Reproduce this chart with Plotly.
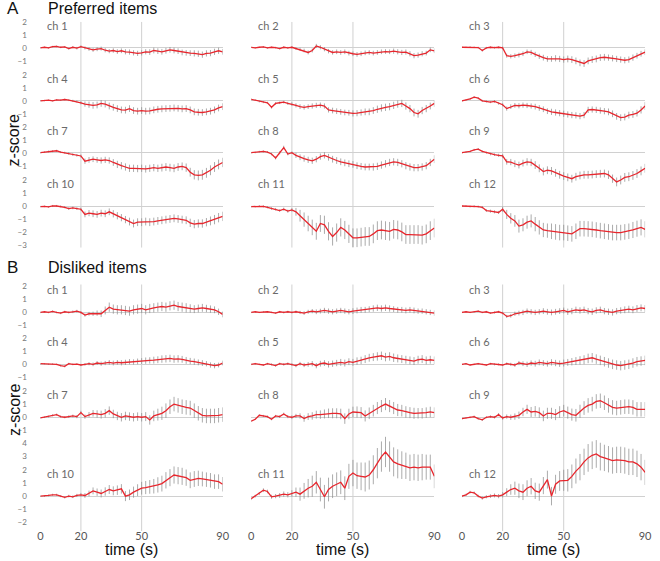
import plotly.graph_objects as go

# ---------------- data (time in s, z-score means and error bars) ----------------
time_s = list(range(0, 91, 2))

# Preferred items (panel A)
pref_ch1 = [0, 0.05, 0, 0.1, 0.12, 0.05, 0.08, -0.05, 0.05, -0.02,
            0.1, 0, -0.08, -0.15, -0.1, -0.05, -0.18, -0.25, -0.2, -0.28,
            -0.22, -0.3, -0.32, -0.38, -0.42, -0.38, -0.3, -0.32, -0.2, -0.25,
            -0.3, -0.22, -0.15, -0.2, -0.25, -0.35, -0.38, -0.4, -0.42, -0.45,
            -0.52, -0.42, -0.4, -0.3, -0.22, -0.3]
pref_ch2 = [0.05, 0.0, 0.05, 0.08, 0.0, 0.05, 0.02, -0.05, 0.05, 0.0,
            0.05, -0.05, -0.1, -0.2, -0.35, -0.2, 0.15, 0.05, -0.1, -0.25,
            -0.35, -0.3, -0.35, -0.3, -0.4, -0.45, -0.5, -0.45, -0.38, -0.35,
            -0.4, -0.35, -0.3, -0.28, -0.3, -0.25, -0.3, -0.35, -0.32, -0.45,
            -0.6, -0.55, -0.45, -0.4, -0.15, -0.22]
pref_ch3 = [0.05, 0.05, 0.08, 0.05, 0.03, -0.2, 0.0, 0.05, 0.02, 0.05,
            0.0, -0.6, -0.65, -0.6, -0.55, -0.45, -0.3, -0.35, -0.5, -0.65,
            -0.75, -0.85, -0.85, -0.8, -0.85, -0.9, -0.85, -0.9, -1.0, -1.15,
            -1.2, -1.0, -0.9, -0.85, -0.75, -0.72, -0.75, -0.8, -0.85, -0.9,
            -0.95, -0.9, -0.75, -0.6, -0.45, -0.33]
pref_ch4 = [0.0, 0.02, 0.05, 0.0, 0.08, 0.05, 0.1, 0.05, 0.0, -0.05,
            -0.15, -0.25, -0.3, -0.35, -0.32, -0.2, -0.25, -0.4, -0.5, -0.6,
            -0.7, -0.72, -0.6, -0.75, -0.8, -0.75, -0.8, -0.78, -0.7, -0.65,
            -0.62, -0.6, -0.58, -0.55, -0.58, -0.62, -0.6, -0.7, -0.85, -0.88,
            -0.9, -0.85, -0.8, -0.7, -0.55, -0.45]
pref_ch5 = [0.12, 0.05, -0.05, -0.1, -0.15, -0.5, -0.2, -0.15, -0.1, -0.2,
            -0.25, -0.35, -0.45, -0.5, -0.45, -0.4, -0.35, -0.33, -0.4, -0.7,
            -0.75, -0.8, -0.85, -0.9, -0.92, -0.97, -0.95, -0.9, -0.85, -0.85,
            -0.75, -0.65, -0.55, -0.5, -0.45, -0.35, -0.25, -0.2, -0.4, -0.6,
            -0.9, -1.0, -0.75, -0.6, -0.4, -0.2]
pref_ch6 = [0.0, 0.05, 0.15, 0.28, 0.2, 0.0, -0.05, -0.1, -0.05, -0.2,
            -0.3, -0.6, -0.45, -0.35, -0.38, -0.33, -0.36, -0.4, -0.45, -0.55,
            -0.65, -0.8, -0.85, -0.9, -0.95, -1.0, -1.05, -1.1, -1.12, -1.18,
            -1.1, -0.7, -0.67, -0.7, -0.75, -0.8, -0.85, -1.0, -1.2, -1.3,
            -1.25, -1.1, -1.05, -0.95, -0.7, -0.4]
pref_ch7 = [0.0, 0.05, 0.1, 0.12, 0.15, 0.05, 0.0, -0.05, -0.15, -0.2,
            -0.25, -0.65, -0.55, -0.5, -0.55, -0.6, -0.55, -0.6, -0.75, -0.9,
            -1.0, -1.1, -1.2, -1.2, -1.22, -1.2, -1.25, -1.2, -1.15, -1.2,
            -1.15, -1.1, -1.15, -1.2, -1.1, -1.05, -1.15, -1.5, -1.7, -1.75,
            -1.7, -1.55, -1.35, -1.1, -0.9, -0.75]
pref_ch8 = [0.0, 0.02, 0.08, 0.1, 0.05, -0.1, -0.4, 0.0, 0.4, -0.1,
            0.0, -0.2, -0.35, -0.45, -0.55, -0.62, -0.5, -0.3, -0.2, -0.35,
            -0.5, -0.6, -0.7, -0.78, -0.85, -0.9, -1.0, -1.05, -1.1, -1.1,
            -1.1, -1.05, -0.95, -0.85, -0.75, -0.7, -0.75, -0.85, -1.0, -1.1,
            -1.15, -1.15, -1.1, -1.0, -0.75, -0.5]
pref_ch9 = [0.0, 0.05, 0.1, 0.22, 0.28, 0.1, 0.0, -0.1, -0.15, -0.2,
            -0.25, -0.7, -0.72, -0.85, -0.95, -0.8, -0.7, -0.75, -0.95, -1.2,
            -1.45, -1.35, -1.4, -1.55, -1.7, -1.8, -1.9, -2.0, -1.85, -1.75,
            -1.7, -1.7, -1.68, -1.65, -1.62, -1.6, -1.7, -2.0, -2.25, -2.1,
            -1.9, -1.85, -1.75, -1.6, -1.4, -1.2]
pref_ch10 = [0.0, 0.02, -0.02, 0.05, 0.05, 0.02, -0.05, -0.15, -0.1, -0.15,
             -0.2, -0.6, -0.5, -0.55, -0.6, -0.5, -0.55, -0.4, -0.55, -0.7,
             -0.85, -1.0, -1.15, -1.3, -1.2, -1.2, -1.15, -1.2, -1.15, -1.1,
             -1.05, -1.0, -0.95, -0.9, -0.95, -1.0, -1.05, -1.25, -1.35, -1.3,
             -1.3, -1.2, -1.1, -1.0, -0.85, -0.75]
pref_ch11 = [0.0, 0.0, 0.05, 0.02, -0.05, -0.15, -0.2, -0.3, -0.2, -0.35,
             -0.25, -0.4, -0.7, -1.0, -1.3, -1.6, -1.9, -1.3, -1.4, -1.9,
             -2.3, -2.0, -1.6, -1.8, -2.1, -2.4, -2.4, -2.35, -2.3, -2.3,
             -2.1, -1.85, -1.8, -1.85, -1.9, -1.75, -1.8, -1.95, -2.15, -2.15,
             -2.15, -2.15, -2.2, -2.1, -1.85, -1.65]
pref_ch12 = [0.05, 0.05, 0.0, 0.03, 0.0, -0.05, -0.3, -0.35, -0.4, -0.45,
             -0.2, -0.6, -0.9, -1.1, -1.5, -1.4, -1.2, -1.1, -1.35, -1.6,
             -1.8, -1.85, -1.9, -1.95, -2.0, -2.0, -2.05, -2.1, -1.9, -1.7,
             -1.7, -1.72, -1.75, -1.8, -1.85, -1.9, -1.95, -2.0, -2.0, -2.0,
             -1.95, -1.9, -1.8, -1.7, -1.6, -1.75]

pref_err_ch1 = [0.05, 0.05, 0.06, 0.06, 0.06, 0.07, 0.07, 0.08, 0.08, 0.1,
                0.1, 0.12, 0.14, 0.15, 0.15, 0.15, 0.16, 0.16, 0.17, 0.18,
                0.18, 0.2, 0.2, 0.2, 0.2, 0.2, 0.2, 0.22, 0.22, 0.22,
                0.22, 0.22, 0.22, 0.22, 0.22, 0.22, 0.22, 0.22, 0.24, 0.24,
                0.24, 0.24, 0.24, 0.24, 0.24, 0.22]
pref_err_ch2 = [0.05, 0.05, 0.05, 0.06, 0.06, 0.06, 0.07, 0.07, 0.08, 0.08,
                0.09, 0.1, 0.12, 0.14, 0.15, 0.15, 0.16, 0.16, 0.16, 0.17,
                0.17, 0.18, 0.18, 0.18, 0.18, 0.18, 0.18, 0.18, 0.18, 0.18,
                0.18, 0.18, 0.18, 0.18, 0.18, 0.2, 0.2, 0.2, 0.2, 0.2,
                0.2, 0.2, 0.2, 0.18, 0.18, 0.18]
pref_err_ch3 = [0.05, 0.05, 0.05, 0.06, 0.06, 0.08, 0.08, 0.08, 0.08, 0.08,
                0.1, 0.15, 0.16, 0.17, 0.18, 0.18, 0.18, 0.2, 0.2, 0.2,
                0.22, 0.22, 0.22, 0.24, 0.24, 0.24, 0.26, 0.26, 0.26, 0.26,
                0.26, 0.26, 0.26, 0.26, 0.26, 0.26, 0.24, 0.24, 0.24, 0.24,
                0.24, 0.24, 0.24, 0.22, 0.22, 0.22]
pref_err_ch4 = [0.05, 0.05, 0.05, 0.05, 0.06, 0.06, 0.06, 0.07, 0.08, 0.08,
                0.12, 0.2, 0.24, 0.26, 0.26, 0.26, 0.26, 0.26, 0.26, 0.26,
                0.26, 0.26, 0.26, 0.26, 0.26, 0.26, 0.26, 0.26, 0.26, 0.26,
                0.26, 0.26, 0.26, 0.26, 0.26, 0.26, 0.26, 0.26, 0.26, 0.26,
                0.26, 0.26, 0.26, 0.26, 0.26, 0.26]
pref_err_ch5 = [0.06, 0.06, 0.07, 0.08, 0.08, 0.1, 0.1, 0.1, 0.1, 0.12,
                0.14, 0.16, 0.18, 0.18, 0.18, 0.2, 0.2, 0.2, 0.2, 0.2,
                0.22, 0.22, 0.22, 0.22, 0.22, 0.24, 0.24, 0.24, 0.26, 0.26,
                0.26, 0.28, 0.28, 0.28, 0.28, 0.28, 0.28, 0.28, 0.28, 0.28,
                0.3, 0.3, 0.28, 0.28, 0.26, 0.26]
pref_err_ch6 = [0.06, 0.06, 0.07, 0.08, 0.08, 0.08, 0.08, 0.08, 0.1, 0.1,
                0.12, 0.16, 0.18, 0.18, 0.2, 0.2, 0.2, 0.2, 0.22, 0.22,
                0.22, 0.22, 0.24, 0.24, 0.24, 0.24, 0.24, 0.24, 0.24, 0.24,
                0.24, 0.24, 0.24, 0.24, 0.24, 0.24, 0.26, 0.26, 0.26, 0.26,
                0.26, 0.26, 0.26, 0.26, 0.28, 0.3]
pref_err_ch7 = [0.06, 0.06, 0.07, 0.08, 0.08, 0.08, 0.08, 0.1, 0.1, 0.1,
                0.12, 0.2, 0.22, 0.22, 0.22, 0.24, 0.24, 0.24, 0.26, 0.28,
                0.28, 0.28, 0.28, 0.28, 0.28, 0.28, 0.28, 0.28, 0.28, 0.28,
                0.3, 0.3, 0.3, 0.3, 0.3, 0.3, 0.32, 0.34, 0.36, 0.38,
                0.38, 0.38, 0.38, 0.38, 0.38, 0.36]
pref_err_ch8 = [0.06, 0.06, 0.07, 0.08, 0.08, 0.1, 0.12, 0.12, 0.14, 0.1,
                0.1, 0.2, 0.22, 0.24, 0.24, 0.24, 0.24, 0.24, 0.24, 0.26,
                0.26, 0.26, 0.26, 0.26, 0.26, 0.26, 0.26, 0.26, 0.26, 0.26,
                0.28, 0.28, 0.28, 0.28, 0.28, 0.28, 0.28, 0.28, 0.28, 0.28,
                0.28, 0.28, 0.28, 0.28, 0.28, 0.3]
pref_err_ch9 = [0.06, 0.06, 0.07, 0.08, 0.08, 0.08, 0.08, 0.1, 0.1, 0.12,
                0.14, 0.22, 0.24, 0.26, 0.26, 0.26, 0.28, 0.28, 0.3, 0.3,
                0.3, 0.3, 0.3, 0.3, 0.3, 0.3, 0.3, 0.3, 0.3, 0.3,
                0.3, 0.3, 0.3, 0.3, 0.3, 0.3, 0.32, 0.32, 0.34, 0.34,
                0.34, 0.34, 0.34, 0.34, 0.34, 0.34]
pref_err_ch10 = [0.06, 0.06, 0.07, 0.08, 0.08, 0.08, 0.08, 0.1, 0.1, 0.1,
                 0.12, 0.22, 0.24, 0.26, 0.26, 0.26, 0.26, 0.26, 0.28, 0.28,
                 0.28, 0.28, 0.3, 0.3, 0.3, 0.3, 0.3, 0.3, 0.3, 0.3,
                 0.3, 0.3, 0.3, 0.3, 0.3, 0.3, 0.3, 0.32, 0.32, 0.32,
                 0.32, 0.32, 0.34, 0.36, 0.36, 0.36]
pref_err_ch11 = [0.06, 0.06, 0.07, 0.08, 0.08, 0.1, 0.1, 0.1, 0.12, 0.12,
                 0.14, 0.3, 0.45, 0.55, 0.6, 0.6, 0.65, 0.65, 0.7, 0.7,
                 0.7, 0.7, 0.7, 0.7, 0.7, 0.72, 0.72, 0.72, 0.72, 0.72,
                 0.72, 0.72, 0.72, 0.72, 0.72, 0.72, 0.72, 0.72, 0.72, 0.72,
                 0.72, 0.72, 0.72, 0.72, 0.72, 0.72]
pref_err_ch12 = [0.06, 0.06, 0.07, 0.08, 0.08, 0.1, 0.1, 0.12, 0.12, 0.12,
                 0.2, 0.35, 0.4, 0.45, 0.5, 0.5, 0.5, 0.5, 0.55, 0.55,
                 0.55, 0.55, 0.6, 0.6, 0.6, 0.6, 0.6, 0.6, 0.6, 0.6,
                 0.6, 0.6, 0.6, 0.6, 0.6, 0.6, 0.6, 0.6, 0.6, 0.6,
                 0.6, 0.6, 0.62, 0.62, 0.62, 0.62]

# Disliked items (panel B)
dis_ch1 = [0.0, 0.05, 0.0, 0.08, 0.0, -0.05, 0.05, 0.0, 0.05, 0.1,
           0.0, -0.2, -0.1, -0.1, -0.05, -0.1, 0.15, 0.4, 0.25, 0.2,
           0.2, 0.15, 0.1, 0.2, 0.25, 0.3, 0.2, 0.3, 0.35, 0.4,
           0.45, 0.4, 0.5, 0.55, 0.45, 0.4, 0.35, 0.3, 0.25, 0.3,
           0.35, 0.3, 0.25, 0.2, 0.05, -0.15]
dis_ch2 = [0.0, 0.05, 0.0, 0.05, 0.05, 0.0, -0.05, 0.05, 0.0, 0.05,
           0.0, 0.05, 0.0, -0.05, 0.05, 0.1, 0.05, 0.1, 0.15, 0.1,
           0.05, 0.1, 0.15, 0.1, 0.05, 0.1, 0.15, 0.2, 0.2, 0.25,
           0.3, 0.35, 0.3, 0.35, 0.3, 0.25, 0.2, 0.2, 0.15, 0.2,
           0.15, 0.1, 0.1, 0.05, 0.0, -0.05]
dis_ch3 = [0.0, 0.05, 0.0, 0.05, 0.1, 0.0, 0.05, -0.05, 0.0, 0.05,
           -0.05, -0.3, -0.25, -0.1, -0.05, 0.0, 0.1, 0.05, 0.0, 0.05,
           0.1, 0.05, 0.0, 0.05, 0.1, 0.15, 0.05, 0.1, 0.2, 0.15,
           0.2, 0.1, 0.05, 0.15, 0.2, 0.1, 0.05, 0.0, 0.1, 0.15,
           0.2, 0.25, 0.2, 0.3, 0.35, 0.3]
dis_ch4 = [0.05, 0.05, 0.0, 0.02, 0.0, -0.1, -0.15, 0.05, 0.0, 0.02,
           -0.05, 0.0, 0.05, 0.0, 0.1, 0.05, 0.1, 0.15, 0.1, 0.15,
           0.12, 0.15, 0.2, 0.18, 0.22, 0.25, 0.28, 0.3, 0.32, 0.35,
           0.4, 0.42, 0.45, 0.4, 0.42, 0.38, 0.3, 0.25, 0.2, 0.15,
           0.1, 0.05, -0.05, -0.1, -0.05, 0.1]
dis_ch5 = [0.0, 0.05, 0.0, -0.05, 0.05, 0.0, -0.1, 0.05, 0.0, 0.05,
           0.0, -0.1, 0.05, -0.05, 0.0, 0.05, -0.1, 0.05, 0.1, 0.0,
           0.05, 0.1, 0.15, 0.1, 0.2, 0.15, 0.25, 0.3, 0.4, 0.5,
           0.55, 0.6, 0.65, 0.55, 0.6, 0.5, 0.45, 0.4, 0.35, 0.3,
           0.25, 0.35, 0.4, 0.3, 0.35, 0.3]
dis_ch6 = [0.0, 0.05, -0.05, 0.0, 0.05, 0.0, -0.05, 0.05, 0.0, 0.0,
           -0.05, 0.05, 0.0, -0.05, 0.1, 0.05, 0.0, 0.1, 0.05, 0.15,
           0.1, 0.05, 0.15, 0.1, 0.05, 0.1, 0.15, 0.2, 0.25, 0.3,
           0.35, 0.45, 0.5, 0.4, 0.3, 0.2, 0.1, 0.0, -0.05, -0.1,
           -0.05, 0.0, 0.1, 0.2, 0.25, 0.3]
dis_ch7 = [-0.05, 0.0, 0.05, 0.15, 0.2, 0.05, 0.0, 0.05, 0.1, 0.05,
           0.35, 0.05, 0.2, 0.3, 0.25, 0.2, 0.3, 0.5, 0.25, 0.1,
           0.0, 0.1, 0.05, 0.0, 0.05, 0.0, 0.05, -0.2, 0.1, 0.2,
           0.3, 0.5, 0.8, 1.0, 0.9, 0.8, 0.75, 0.7, 0.5, 0.3,
           0.15, 0.1, 0.1, 0.1, 0.15, 0.2]
dis_ch8 = [-0.3, -0.15, 0.15, 0.1, 0.05, -0.15, 0.1, 0.05, 0.25, 0.05,
           0.0, 0.1, 0.1, -0.1, 0.05, 0.1, 0.2, 0.2, 0.25, 0.3,
           0.3, 0.3, 0.25, -0.1, 0.25, 0.4, 0.4, 0.35, 0.1, 0.3,
           0.5, 0.7, 0.85, 1.0, 0.85, 0.7, 0.55, 0.5, 0.4, 0.35,
           0.3, 0.3, 0.3, 0.35, 0.4, 0.35]
dis_ch9 = [-0.1, -0.05, 0.0, 0.05, -0.1, -0.2, 0.0, 0.05, 0.0, 0.2,
           -0.05, 0.05, 0.0, 0.05, 0.15, 0.4, 0.6, 0.4, 0.45, 0.35,
           0.1, 0.3, 0.3, 0.2, 0.4, 0.5, 0.35, 0.2, 0.15, 0.45,
           0.7, 0.9, 1.0, 1.2, 1.25, 1.1, 0.9, 0.75, 0.7, 0.75,
           0.8, 0.8, 0.75, 0.6, 0.6, 0.6]
dis_ch10 = [0.0, 0.0, 0.05, 0.1, 0.1, 0.0, -0.1, 0.0, -0.05, 0.05,
            0.1, 0.05, 0.2, 0.4, 0.3, 0.2, 0.35, 0.5, 0.4, 0.45,
            0.55, 0.0, 0.1, 0.3, 0.45, 0.6, 0.65, 0.7, 0.75, 0.85,
            0.95, 1.2, 1.4, 1.6, 1.55, 1.5, 1.4, 1.2, 1.3, 1.35,
            1.3, 1.25, 1.2, 1.1, 1.1, 0.9]
dis_ch11 = [-0.2, 0.0, 0.2, 0.45, 0.35, -0.05, 0.0, 0.05, 0.15, 0.1,
            0.2, 0.3, 0.15, 0.4, 0.6, 0.75, 1.05, 0.5, -0.05, 0.5,
            0.75, 0.9, 1.05, 0.6, 1.5, 1.75, 1.55, 1.5, 1.45, 1.6,
            2.0, 2.5, 3.0, 3.35, 3.0, 2.6, 2.45, 2.35, 2.3, 2.15,
            2.2, 2.15, 2.2, 2.2, 2.2, 1.5]
dis_ch12 = [0.0, 0.1, 0.3, 0.25, 0.0, -0.15, -0.05, 0.0, 0.05, 0.0,
            0.1, 0.3, 0.5, 0.6, 0.4, 0.3, 0.6, 0.75, 0.4, 0.3,
            0.8, 1.25, 0.0, 0.9, 1.15, 1.2, 1.2, 1.5, 1.9, 2.2,
            2.6, 2.9, 3.1, 3.2, 3.0, 2.9, 2.8, 2.7, 2.75, 2.75,
            2.7, 2.6, 2.6, 2.45, 2.2, 1.8]

dis_err_ch1 = [0.06, 0.06, 0.06, 0.07, 0.07, 0.08, 0.08, 0.08, 0.1, 0.1,
               0.1, 0.12, 0.14, 0.16, 0.2, 0.25, 0.3, 0.35, 0.35, 0.35,
               0.35, 0.35, 0.35, 0.35, 0.35, 0.35, 0.35, 0.35, 0.35, 0.35,
               0.35, 0.35, 0.35, 0.35, 0.35, 0.35, 0.35, 0.32, 0.3, 0.3,
               0.3, 0.28, 0.28, 0.26, 0.24, 0.22]
dis_err_ch2 = [0.05, 0.05, 0.05, 0.06, 0.06, 0.06, 0.07, 0.07, 0.08, 0.08,
               0.08, 0.1, 0.12, 0.14, 0.15, 0.16, 0.18, 0.18, 0.2, 0.2,
               0.2, 0.2, 0.2, 0.2, 0.2, 0.22, 0.22, 0.22, 0.22, 0.22,
               0.24, 0.24, 0.24, 0.24, 0.24, 0.22, 0.22, 0.22, 0.22, 0.22,
               0.22, 0.2, 0.2, 0.2, 0.2, 0.2]
dis_err_ch3 = [0.05, 0.05, 0.05, 0.06, 0.06, 0.06, 0.07, 0.07, 0.08, 0.08,
               0.1, 0.12, 0.14, 0.16, 0.18, 0.2, 0.2, 0.2, 0.2, 0.2,
               0.22, 0.22, 0.22, 0.22, 0.22, 0.22, 0.24, 0.24, 0.24, 0.24,
               0.24, 0.24, 0.24, 0.24, 0.24, 0.24, 0.24, 0.24, 0.24, 0.24,
               0.26, 0.26, 0.26, 0.26, 0.26, 0.26]
dis_err_ch4 = [0.05, 0.05, 0.05, 0.06, 0.06, 0.07, 0.08, 0.07, 0.07, 0.07,
               0.08, 0.1, 0.12, 0.14, 0.15, 0.16, 0.16, 0.18, 0.18, 0.18,
               0.2, 0.2, 0.2, 0.2, 0.22, 0.22, 0.24, 0.24, 0.26, 0.26,
               0.28, 0.28, 0.28, 0.28, 0.28, 0.26, 0.26, 0.24, 0.24, 0.22,
               0.22, 0.2, 0.2, 0.2, 0.18, 0.18]
dis_err_ch5 = [0.06, 0.06, 0.06, 0.07, 0.07, 0.08, 0.08, 0.08, 0.1, 0.1,
               0.1, 0.12, 0.14, 0.16, 0.18, 0.2, 0.2, 0.22, 0.22, 0.24,
               0.24, 0.24, 0.26, 0.26, 0.26, 0.26, 0.28, 0.28, 0.3, 0.3,
               0.3, 0.32, 0.32, 0.32, 0.32, 0.32, 0.3, 0.3, 0.3, 0.3,
               0.3, 0.3, 0.3, 0.3, 0.3, 0.3]
dis_err_ch6 = [0.05, 0.05, 0.05, 0.06, 0.06, 0.06, 0.07, 0.07, 0.08, 0.08,
               0.08, 0.1, 0.12, 0.14, 0.16, 0.18, 0.2, 0.2, 0.22, 0.22,
               0.22, 0.22, 0.24, 0.24, 0.24, 0.26, 0.26, 0.28, 0.3, 0.32,
               0.34, 0.36, 0.36, 0.36, 0.36, 0.36, 0.36, 0.36, 0.36, 0.36,
               0.36, 0.36, 0.36, 0.36, 0.36, 0.36]
dis_err_ch7 = [0.06, 0.06, 0.07, 0.08, 0.08, 0.08, 0.08, 0.1, 0.1, 0.12,
               0.14, 0.16, 0.2, 0.25, 0.28, 0.3, 0.32, 0.32, 0.32, 0.32,
               0.32, 0.32, 0.32, 0.32, 0.32, 0.32, 0.34, 0.36, 0.4, 0.45,
               0.5, 0.55, 0.55, 0.55, 0.55, 0.55, 0.55, 0.55, 0.55, 0.55,
               0.55, 0.55, 0.55, 0.55, 0.55, 0.55]
dis_err_ch8 = [0.06, 0.06, 0.07, 0.08, 0.08, 0.08, 0.08, 0.1, 0.1, 0.12,
               0.14, 0.16, 0.2, 0.24, 0.26, 0.28, 0.3, 0.32, 0.34, 0.36,
               0.38, 0.38, 0.4, 0.4, 0.4, 0.4, 0.42, 0.42, 0.42, 0.44,
               0.44, 0.46, 0.46, 0.46, 0.46, 0.46, 0.46, 0.44, 0.44, 0.42,
               0.42, 0.4, 0.4, 0.4, 0.4, 0.4]
dis_err_ch9 = [0.06, 0.06, 0.07, 0.08, 0.08, 0.08, 0.08, 0.1, 0.1, 0.12,
               0.14, 0.16, 0.2, 0.24, 0.28, 0.32, 0.35, 0.38, 0.4, 0.4,
               0.4, 0.42, 0.42, 0.42, 0.44, 0.44, 0.46, 0.46, 0.48, 0.5,
               0.52, 0.55, 0.55, 0.55, 0.55, 0.55, 0.55, 0.55, 0.55, 0.55,
               0.55, 0.55, 0.55, 0.55, 0.55, 0.55]
dis_err_ch10 = [0.06, 0.06, 0.07, 0.08, 0.08, 0.08, 0.08, 0.1, 0.1, 0.12,
                0.14, 0.18, 0.22, 0.26, 0.28, 0.3, 0.32, 0.34, 0.34, 0.36,
                0.36, 0.38, 0.4, 0.42, 0.45, 0.48, 0.5, 0.52, 0.55, 0.58,
                0.6, 0.62, 0.65, 0.65, 0.65, 0.65, 0.62, 0.6, 0.6, 0.58,
                0.56, 0.55, 0.55, 0.55, 0.55, 0.55]
dis_err_ch11 = [0.1, 0.1, 0.12, 0.14, 0.14, 0.15, 0.16, 0.18, 0.2, 0.2,
                0.25, 0.35, 0.5, 0.6, 0.7, 0.8, 0.85, 0.9, 0.9, 0.9,
                0.9, 0.9, 0.9, 0.9, 0.95, 1.0, 1.0, 1.05, 1.1, 1.1,
                1.1, 1.15, 1.15, 1.15, 1.15, 1.1, 1.1, 1.05, 1.0, 1.0,
                1.0, 1.0, 1.0, 0.95, 0.95, 0.9]
dis_err_ch12 = [0.08, 0.08, 0.1, 0.1, 0.1, 0.12, 0.12, 0.14, 0.15, 0.16,
                0.2, 0.3, 0.4, 0.5, 0.55, 0.6, 0.6, 0.62, 0.62, 0.65,
                0.65, 0.68, 0.7, 0.72, 0.75, 0.8, 0.85, 0.9, 0.95, 1.0,
                1.0, 1.05, 1.05, 1.05, 1.05, 1.0, 1.0, 1.0, 1.0, 1.0,
                1.0, 1.0, 1.0, 1.0, 1.0, 0.95]

x_tick_vals = [0, 20, 50, 90]
marker_times = [20, 50]
channel_names = ["ch %d" % i for i in range(1, 13)]
panel_letters = ["A", "B"]
panel_titles = ["Preferred items", "Disliked items"]

pref_means = [pref_ch1, pref_ch2, pref_ch3, pref_ch4, pref_ch5, pref_ch6,
              pref_ch7, pref_ch8, pref_ch9, pref_ch10, pref_ch11, pref_ch12]
pref_errs = [pref_err_ch1, pref_err_ch2, pref_err_ch3, pref_err_ch4, pref_err_ch5, pref_err_ch6,
             pref_err_ch7, pref_err_ch8, pref_err_ch9, pref_err_ch10, pref_err_ch11, pref_err_ch12]
dis_means = [dis_ch1, dis_ch2, dis_ch3, dis_ch4, dis_ch5, dis_ch6,
             dis_ch7, dis_ch8, dis_ch9, dis_ch10, dis_ch11, dis_ch12]
dis_errs = [dis_err_ch1, dis_err_ch2, dis_err_ch3, dis_err_ch4, dis_err_ch5, dis_err_ch6,
            dis_err_ch7, dis_err_ch8, dis_err_ch9, dis_err_ch10, dis_err_ch11, dis_err_ch12]
for s in pref_means + pref_errs + dis_means + dis_errs:
    assert len(s) == len(time_s), len(s)

# ---------------- layout geometry (pixels) ----------------
W, H = 660, 561
col_px = [(38, 223), (252, 438), (466, 652)]
# per panel: rows of (zero-line pixel, px per unit, y range, tick values)
panel_rows = [
    [(48, 13.0, (-1.9, 2.4), [-1, 0, 1, 2]),
     (101, 13.0, (-1.9, 2.4), [-1, 0, 1, 2]),
     (153, 13.0, (-2.8, 2.4), [-1, 0, 1, 2]),
     (207, 13.0, (-3.6, 2.4), [-3, -2, -1, 0, 1, 2])],
    [(313, 13.2, (-1.3, 2.4), [-1, 0, 1, 2]),
     (365, 13.2, (-1.3, 2.4), [-1, 0, 1, 2]),
     (418, 13.2, (-1.3, 2.4), [-1, 0, 1, 2]),
     (497, 13.2, (-2.4, 4.6), [-2, -1, 0, 1, 2, 3, 4])],
]
vline_span = [(22, 248), (285, 532)]
title_y = [9, 268]
zlabel_y = [140, 410]

RED = "#e8262d"
ERR = "rgba(135,135,135,0.7)"
TICK_FONT = dict(family="Lato, Open Sans, sans-serif", size=8, color="#777777")
LAB_FONT = dict(family="Liberation Sans, Arial, sans-serif", size=16, color="#111111")

fig = go.Figure()
layout = {}
annotations = []
shapes = []

ax = 0
for p in range(2):
    means = pref_means if p == 0 else dis_means
    errs = pref_errs if p == 0 else dis_errs
    for r, (zero_px, ppu, rng, tvals) in enumerate(panel_rows[p]):
        top_px = zero_px - rng[1] * ppu
        bot_px = zero_px - rng[0] * ppu
        for c in range(3):
            ax += 1
            k = r * 3 + c
            xa = "x" if ax == 1 else "x%d" % ax
            ya = "y" if ax == 1 else "y%d" % ax
            fig.add_trace(go.Scatter(
                x=time_s, y=means[k], mode="markers",
                marker=dict(size=1, color="rgba(0,0,0,0)"),
                error_y=dict(type="data", array=errs[k], color=ERR, thickness=1, width=0),
                xaxis=xa, yaxis=ya, showlegend=False, hoverinfo="skip"))
            fig.add_trace(go.Scatter(
                x=time_s, y=means[k], mode="lines",
                line=dict(color=RED, width=1.3),
                xaxis=xa, yaxis=ya, showlegend=False))
            x0, x1 = col_px[c]
            show_x = (p == 1 and r == 3)
            layout["xaxis" if ax == 1 else "xaxis%d" % ax] = dict(
                domain=[x0 / W, x1 / W], range=[0, 90], anchor=ya,
                showgrid=False, zeroline=False, showline=False,
                showticklabels=show_x, tickvals=x_tick_vals, ticks="",
                tickfont=dict(family="Lato, Open Sans, sans-serif", size=11, color="#555555"))
            layout["yaxis" if ax == 1 else "yaxis%d" % ax] = dict(
                domain=[max(0, 1 - bot_px / H), min(1, 1 - top_px / H)], range=list(rng),
                anchor=xa, showgrid=False, showline=False,
                zeroline=True, zerolinecolor="#d0d0d0", zerolinewidth=1,
                tickvals=tvals, showticklabels=(c == 0),
                ticks="outside" if c == 0 else "", ticklen=11,
                tickcolor="rgba(0,0,0,0)", tickfont=TICK_FONT)
            annotations.append(dict(
                xref=xa, yref=ya, x=2.5, y=1.75, text=channel_names[k],
                showarrow=False, xanchor="left", yanchor="middle",
                font=dict(family="Lato, Open Sans, sans-serif", size=11, color="#6a6a6a")))
            if r == 0:
                for t in marker_times:
                    shapes.append(dict(
                        type="line", xref=xa, yref="paper", x0=t, x1=t,
                        y0=1 - vline_span[p][1] / H, y1=1 - vline_span[p][0] / H,
                        line=dict(color="#d0d0d0", width=1), layer="below"))

    annotations.append(dict(xref="paper", yref="paper", x=2 / W, y=1 - title_y[p] / H,
                            text=panel_letters[p], showarrow=False, xanchor="left",
                            yanchor="middle", font=dict(family="Liberation Sans, Arial, sans-serif",
                                                        size=17, color="#111111")))
    annotations.append(dict(xref="paper", yref="paper", x=44 / W, y=1 - title_y[p] / H,
                            text=panel_titles[p], showarrow=False, xanchor="left",
                            yanchor="middle", font=dict(family="Liberation Sans, Arial, sans-serif",
                                                        size=16, color="#111111")))
    annotations.append(dict(xref="paper", yref="paper", x=11 / W, y=1 - zlabel_y[p] / H,
                            text="z-score", textangle=-90, showarrow=False,
                            xanchor="center", yanchor="middle", font=LAB_FONT))

for c in range(3):
    x0, x1 = col_px[c]
    annotations.append(dict(xref="paper", yref="paper", x=(x0 + x1) / 2 / W, y=1 - 550 / H,
                            text="time (s)", showarrow=False, xanchor="center",
                            yanchor="middle", font=LAB_FONT))

fig.update_layout(
    width=W, height=H, margin=dict(l=0, r=0, t=0, b=0),
    paper_bgcolor="white", plot_bgcolor="rgba(0,0,0,0)",
    annotations=annotations, shapes=shapes, showlegend=False,
    **layout)

fig.write_html("out.html", config={"displayModeBar": False},
               post_script="document.body.style.margin='0';document.body.style.overflow='hidden';")
